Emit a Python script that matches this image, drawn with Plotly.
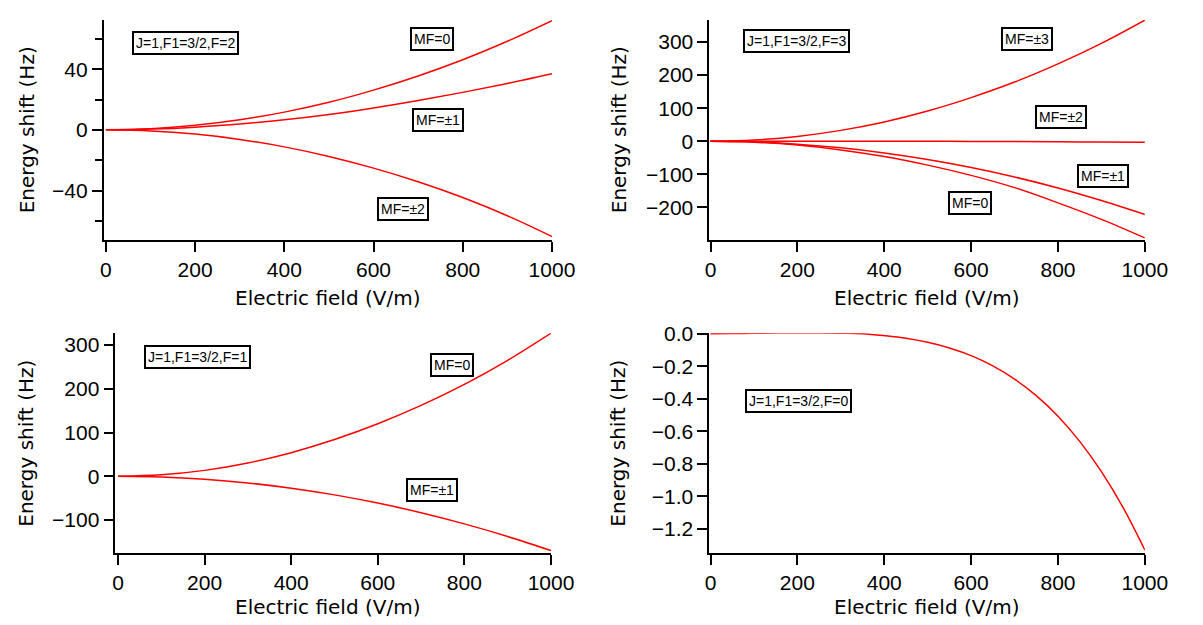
import plotly.graph_objects as go

# Electric field grid (V/m)
field = [0, 100, 200, 300, 400, 500, 600, 700, 800, 900, 1000]
field_fine = [0, 50, 100, 150, 200, 250, 300, 350, 400, 450, 500,
              550, 600, 650, 700, 750, 800, 850, 900, 950, 1000]

# J=1, F1=3/2, F=2 (Hz)
f2_mf0 = [0, 0.8, 3.0, 6.6, 11.7, 18.2, 26.2, 35.5, 46.2, 58.4, 72.0]
f2_mf1 = [0, 0.5, 1.8, 3.9, 6.6, 10.1, 14.4, 19.3, 24.7, 30.6, 37.0]
f2_mf2 = [0, -0.7, -2.8, -6.3, -11.2, -17.5, -25.2, -34.2, -44.6, -56.6, -70.3]

# J=1, F1=3/2, F=3 (Hz)
f3_mf3 = [0, 3.7, 14.6, 33.0, 58.5, 91.5, 132, 179, 234, 296, 366]
f3_mf2 = [0, 0.1, 0.2, 0.3, 0.2, 0.0, -0.3, -0.8, -1.4, -2.2, -3.0]
f3_mf1 = [0, -2.2, -8.8, -19.8, -35.3, -55.2, -79.5, -108, -141, -179, -221]
f3_mf0 = [0, -2.8, -11.5, -26, -46, -72, -103, -140, -186, -236, -292]

# J=1, F1=3/2, F=1 (Hz)
f1_mf0 = [0, 3.4, 13.5, 30.5, 54, 84, 120, 162, 210, 265, 327]
f1_mf1 = [0, -1.7, -6.8, -15.3, -27.2, -42.5, -61.2, -83.3, -108.8, -137.7, -170]

# J=1, F1=3/2, F=0 (Hz)
f0_mf0 = [0, 0.001, 0.003, 0.004, 0.004, 0.004, 0.003, 0.0, -0.012, -0.028,
          -0.053, -0.088, -0.135, -0.198, -0.279, -0.381, -0.507, -0.662, -0.848, -1.069, -1.33]

W, H = 1203, 625
TICK_FONT = "Liberation Sans"
TITLE_FONT = "DejaVu Sans"
RED = "#ff0000"


def px_x(p):
    return p / W


def px_y(p):
    return 1 - p / H


# panel geometry: (x-axis name, y-axis name, left, right, top, bottom) in px
panels = {
    "tl": ("x", "y", 101, 560, 9, 233),
    "tr": ("x2", "y2", 721, 1167, 9, 233),
    "bl": ("x3", "y3", 113, 559, 328, 552),
    "br": ("x4", "y4", 721, 1167, 328, 552),
}

fig = go.Figure()

curves = [
    ("tl", field, f2_mf0), ("tl", field, f2_mf1), ("tl", field, f2_mf2),
    ("tr", field, f3_mf3), ("tr", field, f3_mf2), ("tr", field, f3_mf1), ("tr", field, f3_mf0),
    ("bl", field, f1_mf0), ("bl", field, f1_mf1),
    ("br", field_fine, f0_mf0),
]
for key, xs, ys in curves:
    xa, ya = panels[key][0], panels[key][1]
    fig.add_trace(go.Scatter(x=xs, y=ys, mode="lines", xaxis=xa, yaxis=ya,
                             line=dict(color=RED, width=1.5, shape="spline"),
                             showlegend=False, hoverinfo="skip"))

axis_common = dict(showgrid=False, zeroline=False, showline=True, linecolor="black",
                   linewidth=1.5, ticks="outside", ticklen=10, tickwidth=1.5,
                   tickcolor="black", tickfont=dict(family=TICK_FONT, size=21, color="black"))

yranges = {"tl": [-72.5, 72.5], "tr": [-298, 367], "bl": [-176, 327], "br": [-1.35, 0.003]}
xranges = {"tl": [-5, 1000], "tr": [-3, 1000], "bl": [-6, 1000], "br": [-3, 1000]}
ydticks = {"tl": 40, "tr": 100, "bl": 100, "br": 0.2}

layout_axes = {}
for key, (xa, ya, l, r, t, b) in panels.items():
    xname = "xaxis" + xa[1:]
    yname = "yaxis" + ya[1:]
    layout_axes[xname] = dict(axis_common, domain=[px_x(l), px_x(r)], range=xranges[key],
                              anchor=ya, tickmode="linear", tick0=0, dtick=200)
    ycfg = dict(axis_common, domain=[px_y(b), px_y(t)], range=yranges[key],
                anchor=xa, tickmode="linear", tick0=0, dtick=ydticks[key])
    if key == "br":
        ycfg["tickformat"] = ".1f"
    if key == "tl":
        ycfg["minor"] = dict(dtick=20, tick0=0, ticklen=7, tickwidth=1.5,
                             tickcolor="black", ticks="outside")
    layout_axes[yname] = ycfg

annotations = []

# axis titles
for key, (xa, ya, l, r, t, b) in panels.items():
    ytx = 22 if key in ("tl", "bl") else 628
    annotations.append(dict(text="Energy shift (Hz)", x=px_x(ytx), y=px_y((t + b) / 2),
                            xref="paper", yref="paper", showarrow=False, textangle=-90,
                            xanchor="center", yanchor="middle",
                            font=dict(family=TITLE_FONT, size=20, color="black")))
    xty = 292 if key in ("tl", "tr") else 607
    xtx = 331 if key in ("tl", "bl") else 944
    annotations.append(dict(text="Electric field (V/m)", x=px_x(xtx), y=px_y(xty),
                            xref="paper", yref="paper", showarrow=False,
                            xanchor="center", yanchor="middle",
                            font=dict(family=TITLE_FONT, size=20, color="black")))

# boxed labels: (text, centre px x, centre px y)
labels = [
    ("J=1,F1=3/2,F=2", 185, 33),
    ("MF=0", 437, 29), ("MF=±1", 443, 111), ("MF=±2", 407, 202),
    ("J=1,F1=3/2,F=3", 810, 31),
    ("MF=±3", 1046, 28), ("MF=±2", 1081, 108), ("MF=±1", 1124, 168), ("MF=0", 988, 195),
    ("J=1,F1=3/2,F=1", 197, 352),
    ("MF=0", 458, 360), ("MF=±1", 437, 488),
    ("J=1,F1=3/2,F=0", 812, 397),
]
for text, cx, cy in labels:
    annotations.append(dict(text=text, x=px_x(cx), y=px_y(cy), xref="paper", yref="paper",
                            showarrow=False, xanchor="center", yanchor="middle",
                            bgcolor="white", bordercolor="black", borderwidth=2,
                            borderpad=2, font=dict(family=TICK_FONT, size=14, color="black")))

fig.update_layout(width=W, height=H, margin=dict(l=0, r=0, t=0, b=0),
                  paper_bgcolor="white", plot_bgcolor="white",
                  annotations=annotations, **layout_axes)

fig.write_html("out.html")
